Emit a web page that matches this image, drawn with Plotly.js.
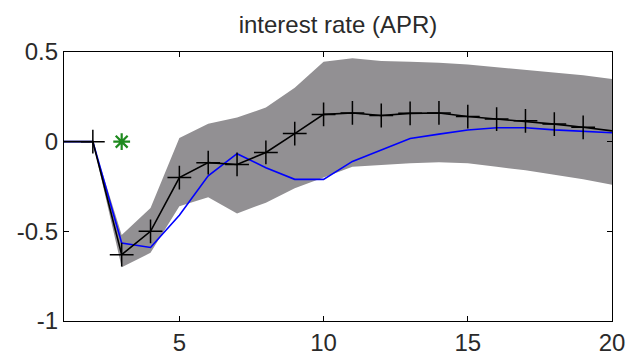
<!DOCTYPE html>
<html>
<head>
<meta charset="utf-8">
<script src="https://cdn.plot.ly/plotly-3.0.1.min.js"></script>
<style>html,body{margin:0;padding:0;background:#fff;}#chart{width:632px;height:358px;}</style>
</head>
<body>
<div id="chart"></div>
<script>
const periods = [1,2,3,4,5,6,7,8,9,10,11,12,13,14,15,16,17,18,19,20];
const medianResponse = [0, 0, -0.63, -0.5, -0.2, -0.117, -0.127, -0.06, 0.045, 0.152, 0.16, 0.146, 0.158, 0.16, 0.14, 0.126, 0.116, 0.098, 0.08, 0.06];
const modelResponse = [0, 0, -0.565, -0.59, -0.41, -0.19, -0.067, -0.145, -0.21, -0.21, -0.11, -0.045, 0.018, 0.042, 0.065, 0.078, 0.078, 0.066, 0.058, 0.05];
const bandUpper = [0, 0, -0.52, -0.37, 0.02, 0.10, 0.135, 0.19, 0.30, 0.445, 0.465, 0.45, 0.445, 0.44, 0.43, 0.415, 0.40, 0.385, 0.37, 0.35];
const bandLower = [0, 0, -0.70, -0.62, -0.36, -0.31, -0.40, -0.34, -0.26, -0.20, -0.14, -0.13, -0.12, -0.115, -0.12, -0.14, -0.16, -0.185, -0.21, -0.24];
const markerPeriods = periods.slice(1, 19);
const markerValues = medianResponse.slice(1, 19);
const starX = [3];
const starY = [0];
const xTickVals = [5, 10, 15, 20];
const xTickText = ['5', '10', '15', '20'];
const yTickVals = [-1, -0.5, 0, 0.5];
const yTickText = ['-1', '-0.5', '0', '0.5'];
const titleText = 'interest rate (APR)';

const bandColor = '#929093';
const traces = [
  {x: periods, y: bandLower, type: 'scatter', mode: 'lines', line: {width: 0, color: bandColor}, hoverinfo: 'skip', showlegend: false},
  {x: periods, y: bandUpper, type: 'scatter', mode: 'lines', fill: 'tonexty', fillcolor: bandColor, line: {width: 0, color: bandColor}, hoverinfo: 'skip', showlegend: false},
  {x: periods, y: modelResponse, type: 'scatter', mode: 'lines', line: {color: '#0000ff', width: 1.6}, showlegend: false},
  {x: periods, y: medianResponse, type: 'scatter', mode: 'lines', line: {color: '#000000', width: 1.6}, showlegend: false},
  {x: markerPeriods, y: markerValues, type: 'scatter', mode: 'markers', marker: {symbol: 'cross-thin-open', size: 17, color: '#000', line: {color: '#000', width: 1.5}}, showlegend: false},
  {x: starX, y: starY, type: 'scatter', mode: 'markers', marker: {symbol: 'asterisk-open', size: 14, color: '#1e8a1e', line: {color: '#1e8a1e', width: 2.2}}, showlegend: false}
];

const axisCommon = {
  showgrid: false, zeroline: false, showline: true, linecolor: '#000', linewidth: 1.2,
  mirror: 'allticks', ticks: 'inside', ticklen: 5, tickcolor: '#000', tickwidth: 1,
  tickfont: {family: '"Liberation Sans", Arial, sans-serif', size: 24, color: '#2a2a2a'}
};

const layout = {
  width: 632, height: 358,
  margin: {l: 64, r: 20, t: 52, b: 37},
  paper_bgcolor: '#fff', plot_bgcolor: '#fff',
  title: {text: titleText, x: 0.5, xref: 'paper', y: 1 - 25/358, yref: 'container', yanchor: 'middle', xanchor: 'center',
          font: {family: '"Liberation Sans", Arial, sans-serif', size: 24, color: '#2a2a2a'}},
  xaxis: Object.assign({}, axisCommon, {range: [1, 20], tickvals: xTickVals, ticktext: xTickText}),
  yaxis: Object.assign({}, axisCommon, {range: [-1, 0.5], tickvals: yTickVals, ticktext: yTickText}),
  showlegend: false
};

Plotly.newPlot('chart', traces, layout, {displayModeBar: false, staticPlot: true});
</script>
</body>
</html>
